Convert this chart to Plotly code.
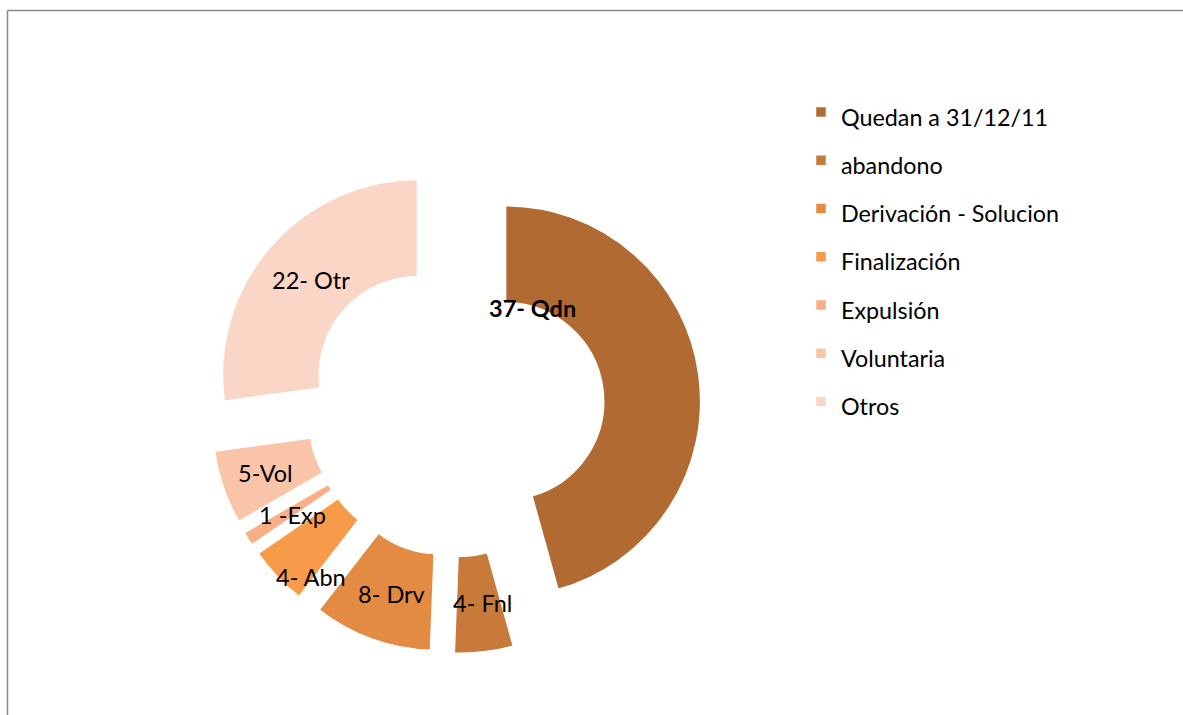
import plotly.graph_objects as go

legend_names = ["Quedan a 31/12/11", "abandono", "Derivación - Solucion",
                "Finalización", "Expulsión", "Voluntaria", "Otros"]
values = [37, 4, 8, 4, 1, 5, 22]
slice_labels = ["37- Qdn", "4- Fnl", "8- Drv", "4- Abn", "1 -Exp", "5-Vol", "22- Otr"]
colors = ["#B06A32", "#C87A3B", "#E38A43", "#F79A4A", "#F9AF85", "#FAC4A9", "#FAD6C6"]

W, H = 1183, 715
FONT = "Lato"

fig = go.Figure()
fig.add_trace(go.Pie(
    labels=[f'<span style="font-size:23.3px">{n}</span>' for n in legend_names],
    values=values,
    sort=False,
    direction="clockwise",
    rotation=0,
    hole=0.5,
    pull=[0.255] * len(values),
    marker=dict(colors=colors, line=dict(color="white", width=2.5)),
    textinfo="none",
    hoverinfo="label+value",
    domain=dict(x=[209.6 / W, 701.6 / W], y=[61 / H, 553 / H]),
))

# label positions (paper coords)
label_pos = [(532, 308), (483, 603), (391, 594), (311, 577), (292, 515), (265, 473), (311, 280)]
for i, (txt, (px, py)) in enumerate(zip(slice_labels, label_pos)):
    fig.add_annotation(
        x=px / W, y=1 - py / H, xref="paper", yref="paper",
        text=f"<b>{txt}</b>" if i == 0 else txt,
        showarrow=False,
        font=dict(family=FONT, size=23.5, color="black"),
        xanchor="center", yanchor="middle",
    )

# chart frame
fig.add_shape(type="line", xref="paper", yref="paper",
              x0=7.5 / W, x1=1.01, y0=1 - 10.5 / H, y1=1 - 10.5 / H,
              line=dict(color="#888888", width=1.5))
fig.add_shape(type="line", xref="paper", yref="paper",
              x0=7.5 / W, x1=7.5 / W, y0=1 - 10.5 / H, y1=-0.01,
              line=dict(color="#888888", width=1.5))

fig.update_layout(
    width=W, height=H,
    margin=dict(l=0, r=0, t=0, b=0),
    paper_bgcolor="white",
    plot_bgcolor="white",
    showlegend=True,
    legend=dict(
        x=801 / W, y=1 - 83 / H, xanchor="left", yanchor="top",
        font=dict(family=FONT, size=34.8, color="black"),
        itemwidth=30,
        bgcolor="rgba(0,0,0,0)",
    ),
    font=dict(family=FONT),
)

fig.write_html("out.html",
               config={"displayModeBar": False},
               post_script="document.body.style.margin='0';document.body.style.overflow='hidden';")
